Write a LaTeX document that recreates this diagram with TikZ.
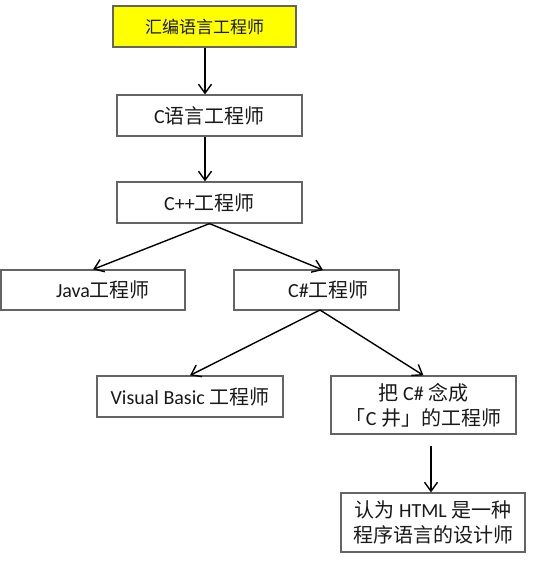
\documentclass[tikz,border=0pt]{standalone}
\usepackage{fontspec}
\setmainfont{Carlito}
\newfontfamily\zhfont{Noto Sans CJK SC}
\newcommand\zh[1]{{\zhfont #1}}
\usetikzlibrary{arrows.meta}
\definecolor{boxyellow}{RGB}{255,255,0}
\definecolor{boxline}{RGB}{100,100,100}
\begin{document}
\begin{tikzpicture}[x=1pt,y=-1pt,
  box/.style={draw=boxline,line width=1.2pt,rectangle,inner sep=0pt,align=center,
    font=\fontsize{20}{25}\selectfont,text=black!90,fill=white},
  arr/.style={line width=1.4pt,-{Straight Barb[length=9pt,width=13pt]}}]
\useasboundingbox (0,0) rectangle (547,587);
\fill[white] (0,0) rectangle (547,587);
\node[box,fill=boxyellow,minimum width=183pt,minimum height=41pt,font=\fontsize{17}{20}\selectfont] (b1) at (204.5,26.5) {\zh{汇编语言工程师}};
\node[box,minimum width=185pt,minimum height=41pt] (b2) at (209.5,115.5) {C\zh{语言工程师}};
\node[box,minimum width=185pt,minimum height=41pt] (b3) at (209.5,202.5) {C++\zh{工程师}};
\node[box,minimum width=184pt,minimum height=40pt] (java) at (93,290) {\hspace*{20pt}Java\zh{工程师}};
\node[box,minimum width=165pt,minimum height=40pt] (cs) at (316.5,290) {\hspace*{24pt}C\#\zh{工程师}};
\node[box,minimum width=186pt,minimum height=41pt] (vb) at (190,396.5) {Visual Basic \zh{工程师}};
\node[box,minimum width=185pt,minimum height=58pt] (csj) at (423.5,405) {\zh{把} C\# \zh{念成}\\\zh{「}C \zh{井」的工程师}};
\node[box,minimum width=184pt,minimum height=59pt] (html) at (433,522.5) {\zh{认为} HTML \zh{是一种}\\\zh{程序语言的设计师}};
\coordinate (vx) at (205,0);
\coordinate (hs) at (431,446);
\coordinate (csa) at (323,270);
\coordinate (csb) at (320,310);
\draw[arr] (b1.south -| vx) -- (b2.north -| vx);
\draw[arr] (b2.south -| vx) -- (b3.north -| vx);
\draw[arr] (b3.south) -- (java.north);
\draw[arr] (b3.south) -- (csa);
\draw[arr] (csb) -- (vb.north);
\draw[arr] (csb) -- (csj.north);
\draw[arr] (hs) -- (hs |- html.north);
\end{tikzpicture}
\end{document}
